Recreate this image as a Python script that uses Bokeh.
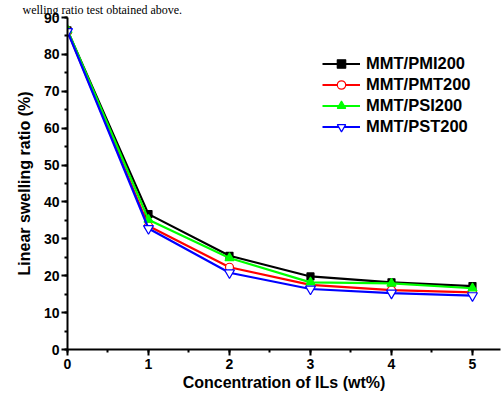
from bokeh.plotting import figure
from bokeh.models import Range1d, Legend, LegendItem, SingleIntervalTicker
from bokeh.embed import file_html
from bokeh.resources import INLINE

conc = [0, 1, 2, 3, 4, 5]
pmi = [86.5, 36.7, 25.4, 19.8, 18.2, 17.2]
pmt = [86.3, 33.5, 22.3, 17.5, 16.1, 15.5]
psi = [86.6, 35.2, 24.8, 18.2, 17.9, 16.6]
pst = [86.2, 32.8, 20.8, 16.4, 15.3, 14.6]
names = ["MMT/PMI200", "MMT/PMT200", "MMT/PSI200", "MMT/PST200"]
x_title = "Concentration of ILs (wt%)"
y_title = "Linear swelling ratio (%)"
caption = "welling ratio test obtained above."

FONT = "Liberation Sans"

p = figure(width=501, height=393, output_backend="svg", toolbar_location=None,
           x_range=Range1d(0, 5.346), y_range=Range1d(0, 90),
           min_border_left=67, min_border_right=1, min_border_top=17, min_border_bottom=42)
p.outline_line_color = None
p.xgrid.visible = False
p.ygrid.visible = False
p.background_fill_color = "white"
p.border_fill_color = "white"

# caption fragment of the surrounding page, kept fully visible above the plot
p.title.text = caption
p.title.text_font = "Liberation Serif"
p.title.text_font_style = "normal"
p.title.text_font_size = "12px"
p.title.text_color = "black"
p.title.align = "left"
p.title.standoff = 1
p.title.offset = -45

p.xaxis.ticker = SingleIntervalTicker(interval=1, num_minor_ticks=2)
p.yaxis.ticker = SingleIntervalTicker(interval=10, num_minor_ticks=2)
for ax in (p.xaxis[0], p.yaxis[0]):
    ax.axis_line_width = 2
    ax.major_tick_line_width = 2
    ax.minor_tick_line_width = 2
    ax.major_tick_out = 6
    ax.major_tick_in = 0
    ax.minor_tick_out = 3
    ax.minor_tick_in = 0
    ax.major_label_text_font = FONT
    ax.major_label_text_font_style = "bold"
    ax.major_label_text_font_size = "14px"
    ax.major_label_text_color = "black"
    ax.axis_label_text_font = FONT
    ax.axis_label_text_font_style = "bold"
    ax.axis_label_text_font_size = "16px"
    ax.axis_label_text_color = "black"
p.xaxis.axis_label = x_title
p.yaxis.axis_label = y_title
p.xaxis.major_label_standoff = 3
p.yaxis.major_label_standoff = 2
p.xaxis.axis_label_standoff = 2
p.yaxis.axis_label_standoff = 8

series = [
    (pmi, "black", "square", "black", 7),
    (pmt, "red", "circle", "white", 8),
    (psi, "#00ff00", "triangle", "#00ff00", 9),
    (pst, "blue", "inverted_triangle", "white", 10),
]
items = []
for (vals, col, mk, fill, sz), nm in zip(series, names):
    l = p.line(conc, vals, line_color=col, line_width=2.2)
    s = p.scatter(conc, vals, marker=mk, size=sz, line_color=col, fill_color=fill, line_width=1.2)
    items.append(LegendItem(label=nm, renderers=[l, s]))

leg = Legend(items=items, location=(255, 212), border_line_color=None,
             background_fill_alpha=0, padding=0, margin=0, spacing=0,
             glyph_width=38, glyph_height=21, label_height=21, label_standoff=6,
             label_text_font=FONT, label_text_font_style="bold",
             label_text_font_size="16.5px", label_text_color="black")
p.add_layout(leg, "center")

open("out.html", "w").write(file_html(p, INLINE))
